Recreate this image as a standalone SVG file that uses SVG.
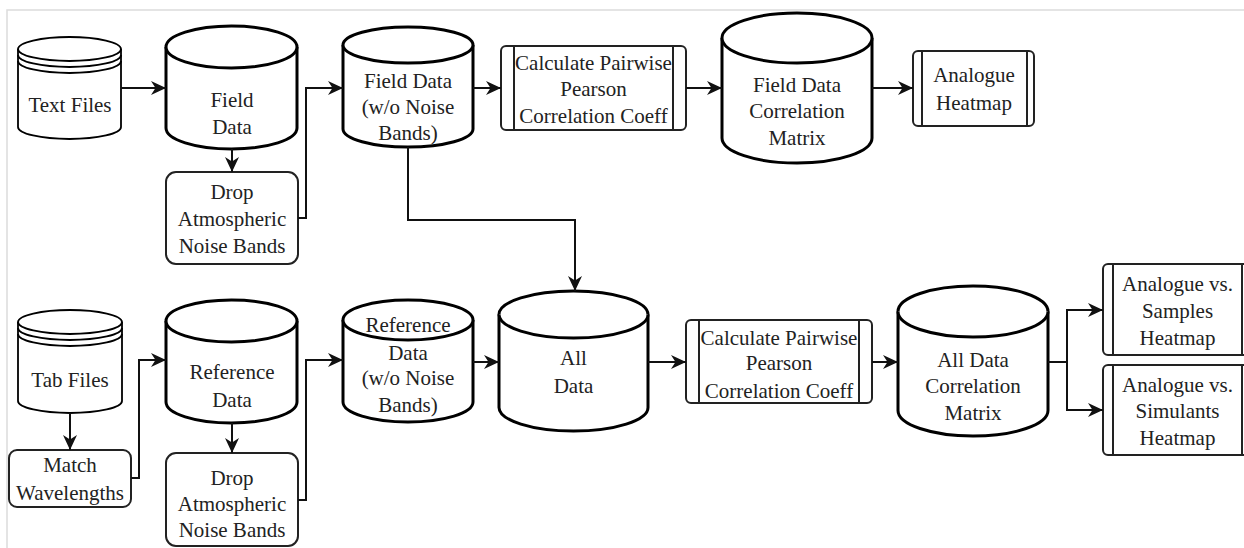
<svg xmlns="http://www.w3.org/2000/svg" width="1244" height="548" viewBox="0 0 1244 548" font-family="Liberation Serif, DejaVu Serif, serif" font-size="21">
<style>
  text { fill: #222; text-anchor: middle; }
  .cyl { fill: #fff; stroke: #000; stroke-width: 3; }
  .cylt { fill: #fff; stroke: #000; stroke-width: 1.8; }
  .box { fill: #fff; stroke: #222; stroke-width: 2; }
  .inner { stroke: #222; stroke-width: 2; fill: none; }
  .conn { fill: none; stroke: #111; stroke-width: 2; }
  .frame { stroke: #dcdcdc; stroke-width: 1.5; fill: none; }
</style>
<defs>
  <marker id="arr" markerUnits="userSpaceOnUse" markerWidth="16" markerHeight="16" viewBox="0 0 16 16" refX="15" refY="8" orient="auto">
    <path d="M0,1 L15,8 L0,15 L4.5,8 Z" fill="#111"/>
  </marker>
</defs>
<rect width="1244" height="548" fill="#fff"/>
<path class="frame" d="M7,548 L7,10 L1244,10"/>

<g id="text-files">
  <path class="cylt" d="M18,49 A51.5,12 0 0 1 121,49 L121,127 A51.5,12 0 0 1 18,127 Z"/>
  <path class="cylt" d="M18,49 A51.5,12 0 0 0 121,49 M18,55 A51.5,12 0 0 0 121,55 M18,61 A51.5,12 0 0 0 121,61"/>
  <text x="70" y="112" style="font-family: 'Liberation Serif', serif">Text Files</text>
</g>
<g id="field-data">
  <path class="cyl" d="M166,47 A65.5,21 0 0 1 297,47 L297,128 A65.5,21 0 0 1 166,128 Z"/>
  <path class="cyl" d="M166,47 A65.5,21 0 0 0 297,47"/>
  <text x="232" y="107">Field</text>
  <text x="232" y="134">Data</text>
</g>
<g id="drop-1">
  <rect class="box" x="166" y="172" width="132" height="92" rx="10"/>
  <text x="232" y="199">Drop</text>
  <text x="232" y="226">Atmospheric</text>
  <text x="232" y="253">Noise Bands</text>
</g>
<g id="field-data-wo">
  <path class="cyl" d="M343,45 A65,18 0 0 1 473,45 L473,129 A65,18 0 0 1 343,129 Z"/>
  <path class="cyl" d="M343,45 A65,18 0 0 0 473,45"/>
  <text x="408" y="88">Field Data</text>
  <text x="408" y="114">(w/o Noise</text>
  <text x="408" y="140">Bands)</text>
</g>
<g id="calc-1">
  <rect class="box" x="501" y="46" width="185" height="84" rx="5"/>
  <path class="inner" d="M514,46 V130 M673,46 V130"/>
  <text x="593.5" y="70">Calculate Pairwise</text>
  <text x="593.5" y="96">Pearson</text>
  <text x="593.5" y="123">Correlation Coeff</text>
</g>
<g id="field-corr">
  <path class="cyl" d="M722,38 A75,25 0 0 1 872,38 L872,138 A75,25 0 0 1 722,138 Z"/>
  <path class="cyl" d="M722,38 A75,25 0 0 0 872,38"/>
  <text x="797" y="92">Field Data</text>
  <text x="797" y="118">Correlation</text>
  <text x="797" y="145">Matrix</text>
</g>
<g id="analogue-heatmap">
  <rect class="box" x="913" y="51" width="121" height="75" rx="5"/>
  <path class="inner" d="M922,51 V126 M1027,51 V126"/>
  <text x="974" y="82">Analogue</text>
  <text x="974" y="110">Heatmap</text>
</g>

<g id="tab-files">
  <path class="cylt" d="M18,322 A52,12 0 0 1 122,322 L122,401 A52,12 0 0 1 18,401 Z"/>
  <path class="cylt" d="M18,322 A52,12 0 0 0 122,322 M18,328 A52,12 0 0 0 122,328 M18,334 A52,12 0 0 0 122,334"/>
  <text x="70" y="387">Tab Files</text>
</g>
<g id="match">
  <rect class="box" x="9" y="450" width="122" height="57" rx="8"/>
  <text x="70" y="472">Match</text>
  <text x="70" y="500">Wavelengths</text>
</g>
<g id="reference-data">
  <path class="cyl" d="M166,321 A65.5,21 0 0 1 297,321 L297,402 A65.5,21 0 0 1 166,402 Z"/>
  <path class="cyl" d="M166,321 A65.5,21 0 0 0 297,321"/>
  <text x="232" y="379">Reference</text>
  <text x="232" y="407">Data</text>
</g>
<g id="drop-2">
  <rect class="box" x="166" y="453" width="132" height="93" rx="10"/>
  <text x="232" y="485">Drop</text>
  <text x="232" y="511">Atmospheric</text>
  <text x="232" y="537">Noise Bands</text>
</g>
<g id="reference-wo">
  <path class="cyl" d="M343,320 A65,20 0 0 1 473,320 L473,402 A65,20 0 0 1 343,402 Z"/>
  <path class="cyl" d="M343,320 A65,20 0 0 0 473,320"/>
  <text x="408" y="332">Reference</text>
  <text x="408" y="360">Data</text>
  <text x="408" y="385">(w/o Noise</text>
  <text x="408" y="412">Bands)</text>
</g>
<g id="all-data">
  <path class="cyl" d="M499,314.5 A74.5,23.5 0 0 1 648,314.5 L648,407.5 A74.5,23.5 0 0 1 499,407.5 Z"/>
  <path class="cyl" d="M499,314.5 A74.5,23.5 0 0 0 648,314.5"/>
  <text x="573.5" y="365">All</text>
  <text x="573.5" y="393">Data</text>
</g>
<g id="calc-2">
  <rect class="box" x="686" y="320" width="186" height="83" rx="5"/>
  <path class="inner" d="M699,320 V403 M859,320 V403"/>
  <text x="779" y="345">Calculate Pairwise</text>
  <text x="779" y="370">Pearson</text>
  <text x="779" y="398">Correlation Coeff</text>
</g>
<g id="all-corr">
  <path class="cyl" d="M898,311.5 A75,25.5 0 0 1 1048,311.5 L1048,410.5 A75,25.5 0 0 1 898,410.5 Z"/>
  <path class="cyl" d="M898,311.5 A75,25.5 0 0 0 1048,311.5"/>
  <text x="973" y="367">All Data</text>
  <text x="973" y="393">Correlation</text>
  <text x="973" y="420">Matrix</text>
</g>
<g id="heatmap-samples">
  <rect class="box" x="1103" y="264" width="149" height="91" rx="5"/>
  <path class="inner" d="M1113,264 V355 M1242,264 V355"/>
  <text x="1177.5" y="291">Analogue vs.</text>
  <text x="1177.5" y="318">Samples</text>
  <text x="1177.5" y="345">Heatmap</text>
</g>
<g id="heatmap-simulants">
  <rect class="box" x="1103" y="365" width="149" height="90" rx="5"/>
  <path class="inner" d="M1113,365 V455 M1242,365 V455"/>
  <text x="1177.5" y="392">Analogue vs.</text>
  <text x="1177.5" y="418">Simulants</text>
  <text x="1177.5" y="445">Heatmap</text>
</g>

<g id="connectors">
  <path class="conn" marker-end="url(#arr)" d="M121,88 H166"/>
  <path class="conn" marker-end="url(#arr)" d="M232,149 V172"/>
  <path class="conn" marker-end="url(#arr)" d="M298,218 H306 V88 H343"/>
  <path class="conn" marker-end="url(#arr)" d="M473,88 H501"/>
  <path class="conn" marker-end="url(#arr)" d="M686,88 H722"/>
  <path class="conn" marker-end="url(#arr)" d="M872,88 H913"/>
  <path class="conn" marker-end="url(#arr)" d="M408,147 V220 H575 V291"/>
  <path class="conn" marker-end="url(#arr)" d="M70,413 V450"/>
  <path class="conn" marker-end="url(#arr)" d="M131,478 H139 V360 H166"/>
  <path class="conn" marker-end="url(#arr)" d="M232,423 V453"/>
  <path class="conn" marker-end="url(#arr)" d="M298,500 H306 V360 H343"/>
  <path class="conn" marker-end="url(#arr)" d="M473,362 H499"/>
  <path class="conn" marker-end="url(#arr)" d="M648,362 H686"/>
  <path class="conn" marker-end="url(#arr)" d="M872,362 H898"/>
  <path class="conn" marker-end="url(#arr)" d="M1048,362 H1067 V310 H1103"/>
  <path class="conn" marker-end="url(#arr)" d="M1048,362 H1067 V410 H1103"/>
</g>
</svg>
